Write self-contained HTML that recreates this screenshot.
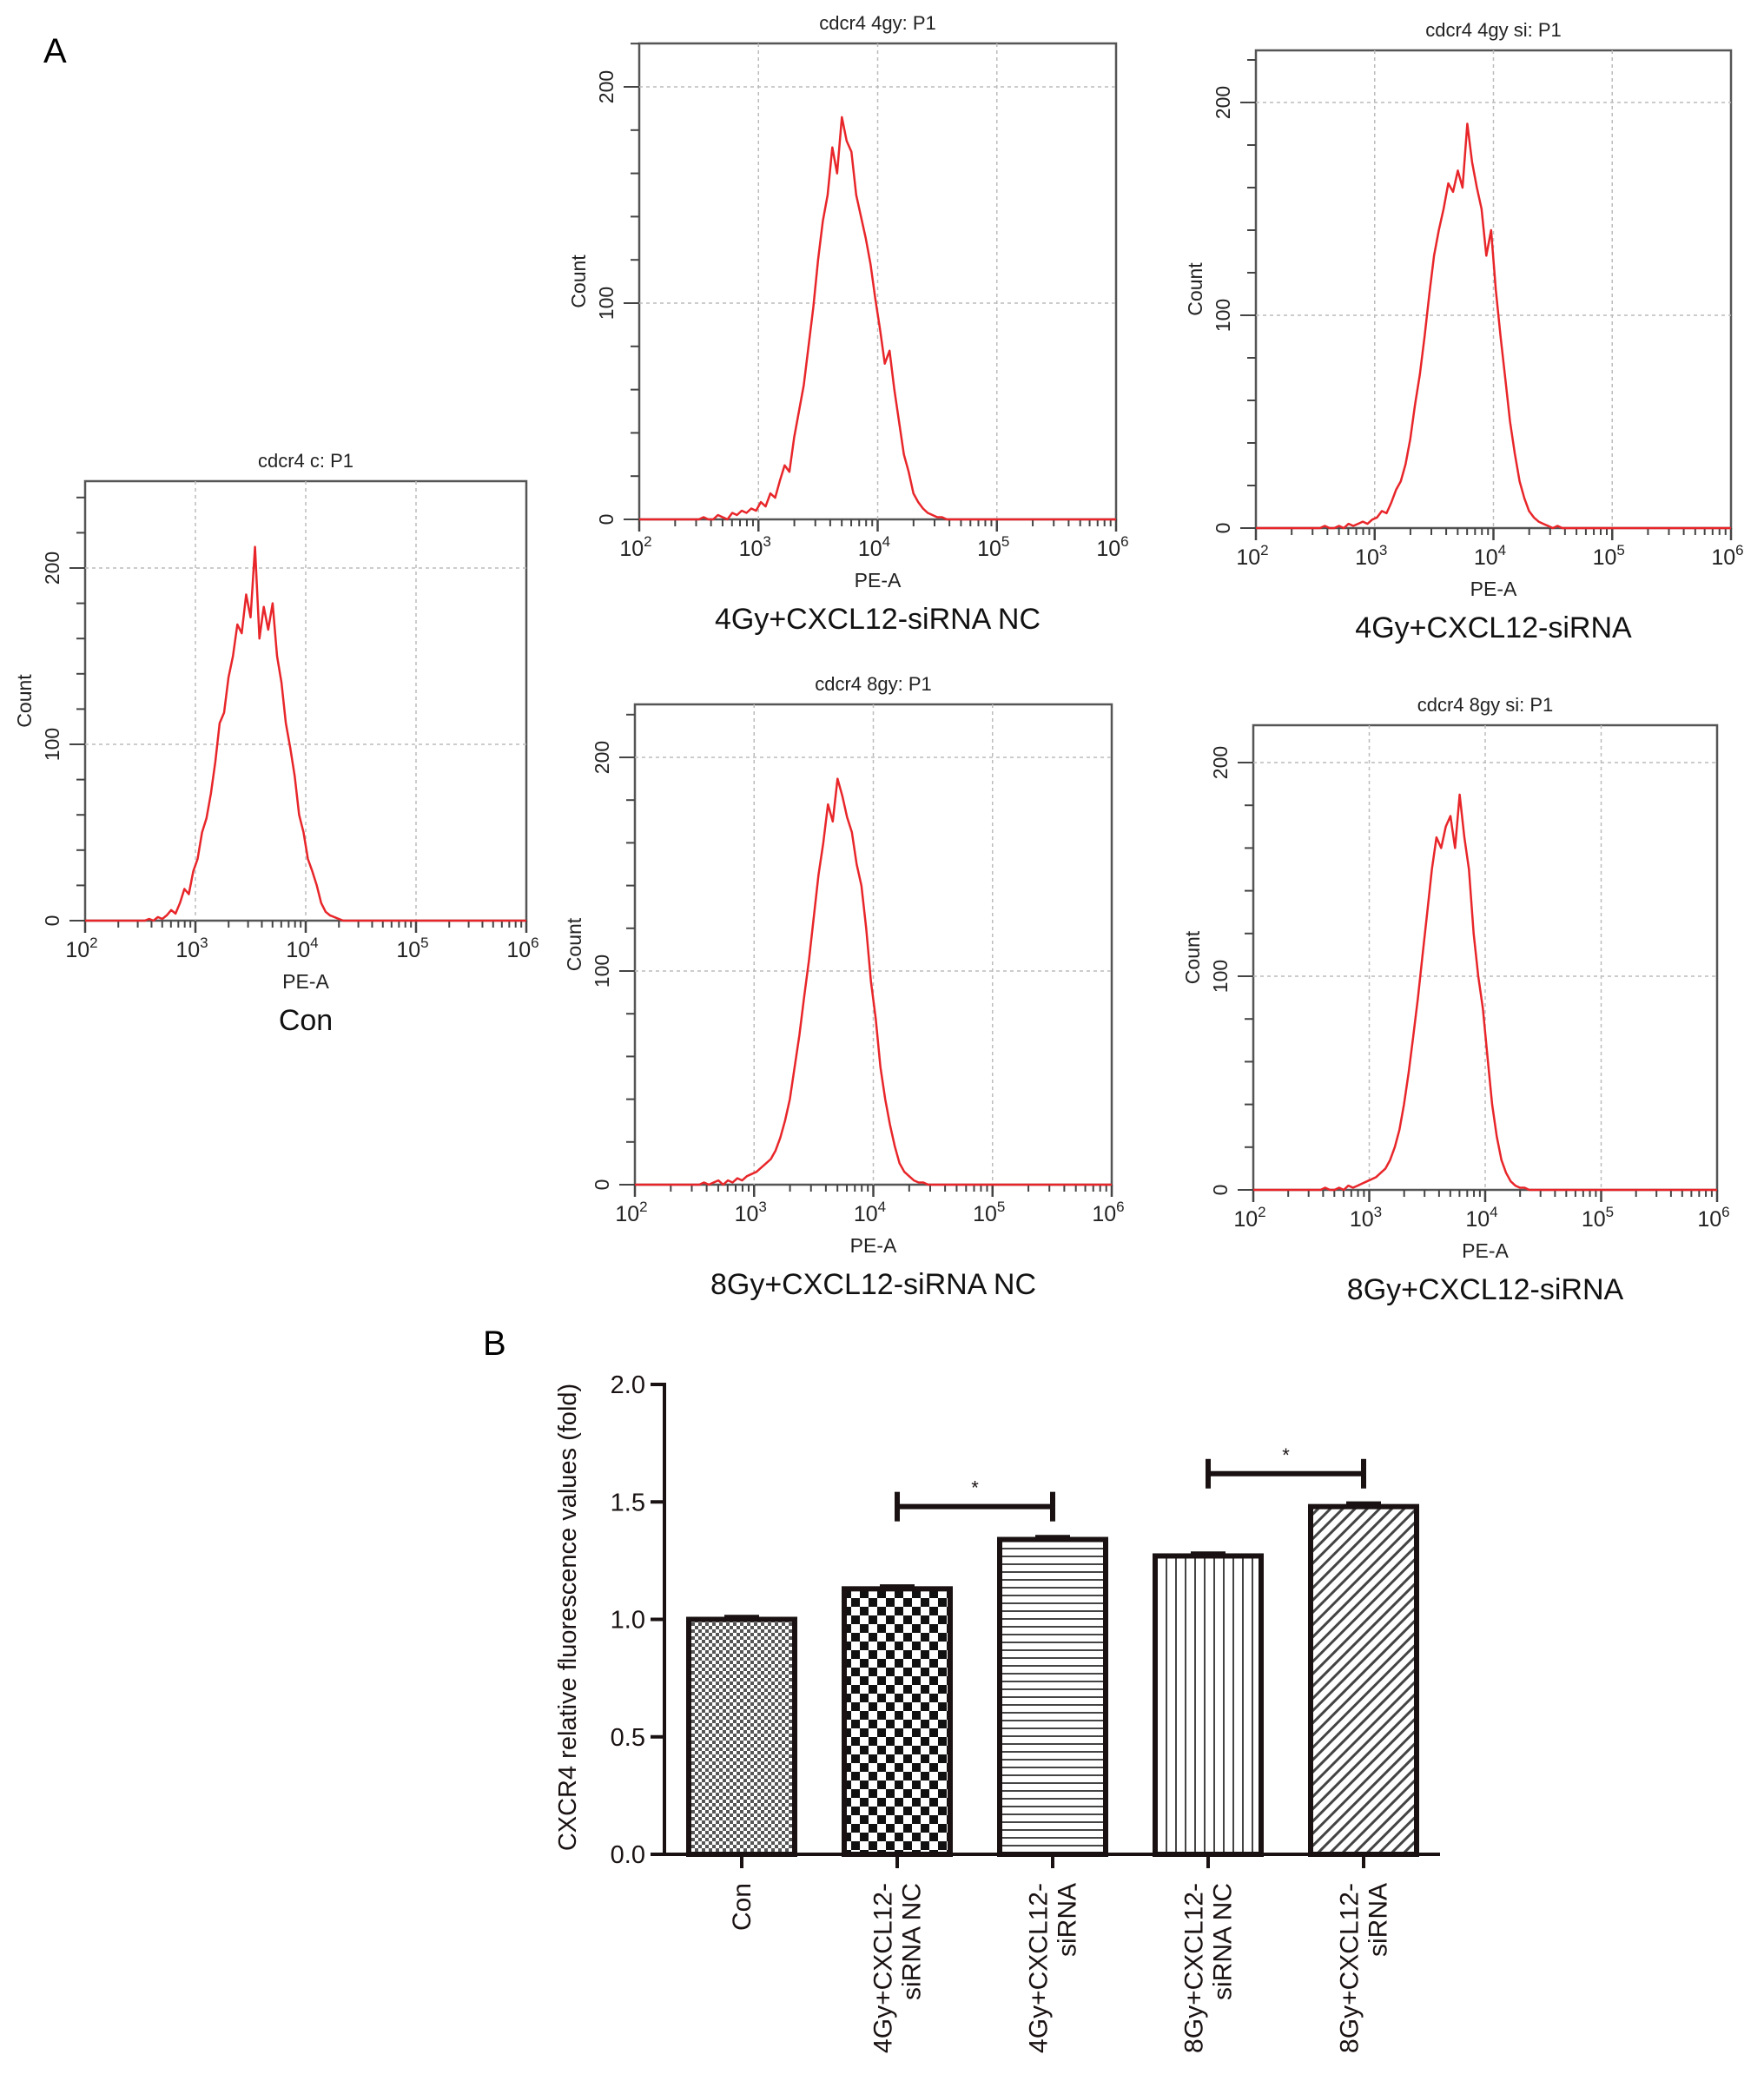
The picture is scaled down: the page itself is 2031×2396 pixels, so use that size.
<!DOCTYPE html>
<html><head><meta charset="utf-8"><style>
html,body{margin:0;padding:0;background:#fff;}
svg{display:block;font-family:"Liberation Sans",sans-serif;}
</style></head><body>
<svg id="fig" width="2031" height="2396" viewBox="0 0 2031 2396" xmlns="http://www.w3.org/2000/svg">
<defs>
<pattern id="pCon" width="8" height="8" patternUnits="userSpaceOnUse"><rect width="8" height="8" fill="#fff"/><rect width="4" height="4" fill="#555"/><rect x="4" y="4" width="4" height="4" fill="#555"/></pattern>
<pattern id="pNC4" width="20" height="20" patternUnits="userSpaceOnUse"><rect width="20" height="20" fill="#fff"/><rect width="10" height="10" fill="#111"/><rect x="10" y="10" width="10" height="10" fill="#111"/></pattern>
<pattern id="pSi4" width="10" height="9" patternUnits="userSpaceOnUse"><rect width="10" height="9" fill="#fff"/><rect y="0" width="10" height="2" fill="#444"/></pattern>
<pattern id="pNC8" width="11" height="10" patternUnits="userSpaceOnUse"><rect width="11" height="10" fill="#fff"/><rect x="0" width="2" height="10" fill="#444"/></pattern>
<pattern id="pSi8" width="10" height="10" patternUnits="userSpaceOnUse" patternTransform="rotate(45)"><rect width="10" height="10" fill="#fff"/><rect width="3" height="10" fill="#444"/></pattern>
</defs>
<text x="50" y="72" font-size="40">A</text>
<text x="556" y="1560" font-size="40">B</text>
<g id="hists"></g>
<g id="bars"></g>
</svg>
<script>
const NS='http://www.w3.org/2000/svg';
// histogram data: counts per bin, bins start at log10=2.5, step 0.04
const binStart=2.5, binStep=0.04;
const conCounts=[0,0,1,0,2,1,3,6,4,10,18,15,28,35,50,58,72,90,112,118,138,150,168,163,185,172,212,160,178,165,180,150,135,112,98,82,60,50,35,28,20,10,5,3,2,1,0,0,0,0,0,0,0,0,0];
const nc4Counts=[0,1,0,0,2,1,0,3,2,4,3,5,4,8,6,12,10,18,25,22,38,50,62,80,98,120,138,150,172,160,186,175,170,150,140,130,118,102,88,72,78,60,45,30,22,12,8,5,3,2,1,1,0,0,0];
const si4Counts=[0,0,1,0,0,1,0,2,1,2,3,2,4,5,8,7,12,18,22,30,42,58,72,90,110,128,140,150,162,158,168,160,190,172,160,150,128,140,112,90,70,50,35,22,14,8,5,3,2,1,0,1,0,0,0];
const nc8Counts=[0,0,1,0,1,2,0,2,1,3,2,4,5,6,8,10,12,16,22,30,40,55,70,88,105,125,145,160,178,170,190,182,172,165,150,140,120,95,78,55,40,28,18,10,6,4,2,1,1,0,0,0,0,0,0];
const si8Counts=[0,0,0,1,0,0,1,0,2,1,2,3,4,5,6,8,10,14,20,28,40,55,72,90,110,130,150,165,160,170,175,160,185,165,150,120,100,85,62,40,25,14,8,4,2,1,1,0,0,0,0,0,0,0,0];
const xTickLabels=['2','3','4','5','6'];
const yTickLabels=[0,100,200];

// bar chart data
const barCategories=[['Con'],['4Gy+CXCL12-','siRNA NC'],['4Gy+CXCL12-','siRNA'],['8Gy+CXCL12-','siRNA NC'],['8Gy+CXCL12-','siRNA']];
const barValues=[1.0,1.13,1.34,1.27,1.48];
const barErrors=[0.012,0.012,0.012,0.012,0.015];
const barYTicks=['0.0','0.5','1.0','1.5','2.0'];
const sigPairs=[[1,2,1.48],[3,4,1.62]];

function el(tag,attrs,parent){const e=document.createElementNS(NS,tag);for(const k in attrs)e.setAttribute(k,attrs[k]);parent.appendChild(e);return e;}

const hg=document.getElementById('hists');
function hist(cfg,counts,nm){
  const g=el('g',{},hg);
  
  
  const {L,R,T,B,u}=cfg;
  const xs=v=>L+(v-2)/4*(R-L);
  const ys=c=>B-c*u/100;
  el('rect',{x:L,y:T,width:R-L,height:B-T,fill:'#fff',stroke:'#555','stroke-width':2.5},g);
  for(let d=3;d<=5;d++) el('line',{x1:xs(d),x2:xs(d),y1:T,y2:B,stroke:'#bbb','stroke-dasharray':'4,4','stroke-width':1.5},g);
  [100,200].forEach(c=>el('line',{x1:L,x2:R,y1:ys(c),y2:ys(c),stroke:'#bbb','stroke-dasharray':'4,4','stroke-width':1.5},g));
  for(let c=0;ys(c)>=T;c+=20){const maj=c%100===0;el('line',{x1:L-(maj?18:10),x2:L,y1:ys(c),y2:ys(c),stroke:'#444','stroke-width':2},g);}
  yTickLabels.forEach(c=>{const t=el('text',{x:L-30,y:ys(c),'font-size':23,'text-anchor':'middle',transform:`rotate(-90 ${L-30} ${ys(c)})`,fill:'#222'},g);t.textContent=c;});
  const yt=el('text',{x:L-62,y:(T+B)/2,'font-size':23,'text-anchor':'middle',transform:`rotate(-90 ${L-62} ${(T+B)/2})`,fill:'#222'},g);yt.textContent='Count';
  for(let d=2;d<=6;d++){
    el('line',{x1:xs(d),x2:xs(d),y1:B,y2:B+14,stroke:'#444','stroke-width':2.5},g);
    if(d<6) for(let m=2;m<=9;m++){const x=xs(d+Math.log10(m));el('line',{x1:x,x2:x,y1:B,y2:B+8,stroke:'#444','stroke-width':2},g);}
  }
  xTickLabels.forEach((p,i)=>{const t=el('text',{x:xs(2+i)-4,y:B+42,'font-size':25,'text-anchor':'middle',fill:'#222'},g);t.textContent='10';const s=el('tspan',{dy:-11,'font-size':17},t);s.textContent=p;});
  const xt=el('text',{x:xs(4),y:B+78,'font-size':23,'text-anchor':'middle',fill:'#222'},g);xt.textContent='PE-A';
  const tt=el('text',{x:(L+R)/2,y:T-16,'font-size':22,'text-anchor':'middle',fill:'#222'},g);tt.textContent=cfg.title;
  const ct=el('text',{x:(L+R)/2,y:B+126,'font-size':34,'text-anchor':'middle',fill:'#111'},g);ct.textContent=cfg.cap;
  let pts=[];counts.forEach((c,i)=>{pts.push(xs(binStart+i*binStep).toFixed(1)+','+ys(c).toFixed(1));});
  pts.unshift(L+','+B);pts.push(R+','+B);
  const pl=el('polyline',{points:pts.join(' '),fill:'none',stroke:'#e8262a','stroke-width':2.5,'stroke-linejoin':'round'},g);
  
  
}
hist({L:98,R:606,T:554,B:1060,u:203,title:'cdcr4 c: P1',cap:'Con'},conCounts,'histogram-con');
hist({L:736,R:1285,T:50,B:598,u:249,title:'cdcr4 4gy: P1',cap:'4Gy+CXCL12-siRNA NC'},nc4Counts,'histogram-4gy-nc');
hist({L:1446,R:1993,T:58,B:608,u:245,title:'cdcr4 4gy si: P1',cap:'4Gy+CXCL12-siRNA'},si4Counts,'histogram-4gy-si');
hist({L:731,R:1280,T:811,B:1364,u:246,title:'cdcr4 8gy: P1',cap:'8Gy+CXCL12-siRNA NC'},nc8Counts,'histogram-8gy-nc');
hist({L:1443,R:1977,T:835,B:1370,u:246,title:'cdcr4 8gy si: P1',cap:'8Gy+CXCL12-siRNA'},si8Counts,'histogram-8gy-si');

const bg=document.getElementById('bars');
const AX=765, AY0=2135, PU=270.5, BW=122, BX0=854, BDX=179;
const yb=v=>AY0-v*PU;
const xb=i=>BX0+i*BDX;
const fills=['url(#pCon)','url(#pNC4)','url(#pSi4)','url(#pNC8)','url(#pSi8)'];
barValues.forEach((v,i)=>{
  const r=el('rect',{x:xb(i)-BW/2,y:yb(v),width:BW,height:AY0-yb(v),fill:fills[i],stroke:'#1a1212','stroke-width':6},bg);
  
  
  el('line',{x1:xb(i)-20,x2:xb(i)+20,y1:yb(v+barErrors[i]),y2:yb(v+barErrors[i]),stroke:'#1a1212','stroke-width':4},bg);
  el('line',{x1:xb(i),x2:xb(i),y1:yb(v),y2:yb(v+barErrors[i]),stroke:'#1a1212','stroke-width':4},bg);
  el('line',{x1:xb(i),x2:xb(i),y1:AY0,y2:AY0+16,stroke:'#1a1212','stroke-width':4},bg);
  const lines=barCategories[i];
  lines.forEach((s,j)=>{
    const x=xb(i)+10+(j-(lines.length-1)/2)*33;
    const t=el('text',{x:x,y:2168,'font-size':30,'text-anchor':'end',transform:`rotate(-90 ${x} 2168)`,fill:'#1a1212'},bg);
    t.textContent=s;
  });
});
el('line',{x1:AX,x2:AX,y1:yb(2)-2,y2:AY0,stroke:'#1a1212','stroke-width':4},bg);
el('line',{x1:AX,x2:1658,y1:AY0,y2:AY0,stroke:'#1a1212','stroke-width':4},bg);
barYTicks.forEach(s=>{const v=parseFloat(s);el('line',{x1:AX-16,x2:AX,y1:yb(v),y2:yb(v),stroke:'#1a1212','stroke-width':4},bg);
  const t=el('text',{x:AX-22,y:yb(v)+10,'font-size':29,'text-anchor':'end',fill:'#1a1212'},bg);t.textContent=s;});
const yat=el('text',{x:663,y:1862,'font-size':29,'text-anchor':'middle',transform:'rotate(-90 663 1862)',fill:'#1a1212'},bg);
yat.textContent='CXCR4 relative fluorescence values (fold)';
sigPairs.forEach(([a,b,v],k)=>{
  const g=el('g',{},bg);
  
  
  el('line',{x1:xb(a),x2:xb(b),y1:yb(v),y2:yb(v),stroke:'#1a1212','stroke-width':6},g);
  el('line',{x1:xb(a),x2:xb(a),y1:yb(v)-17,y2:yb(v)+17,stroke:'#1a1212','stroke-width':6},g);
  el('line',{x1:xb(b),x2:xb(b),y1:yb(v)-17,y2:yb(v)+17,stroke:'#1a1212','stroke-width':6},g);
  const t=el('text',{x:(xb(a)+xb(b))/2,y:yb(v)-14,'font-size':22,'text-anchor':'middle',fill:'#1a1212'},g);t.textContent='*';
});
</script>
</body></html>
